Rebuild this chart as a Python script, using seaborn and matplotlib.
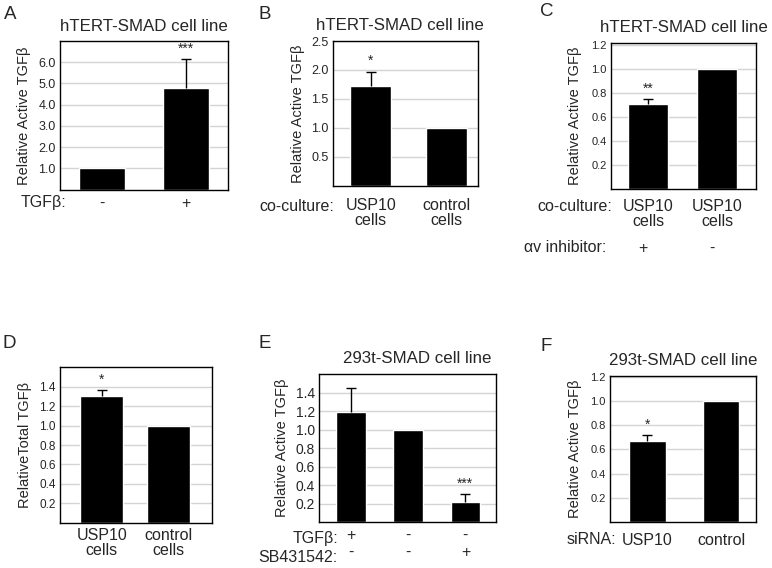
import numpy as np
import pandas as pd
import matplotlib
matplotlib.use("Agg")
import matplotlib.pyplot as plt
import matplotlib.transforms as mtransforms
import seaborn as sns

# --------------------------
# Data
# --------------------------
# A: hTERT-SMAD, TGFb treatment
a_tgfb = ["-", "+"]
a_values = [1.0, 4.78]
a_errors = [0.0, 1.38]

# B: hTERT-SMAD co-culture
b_cells = ["USP10\ncells", "control\ncells"]
b_values = [1.73, 1.0]
b_errors = [0.24, 0.0]

# C: hTERT-SMAD co-culture +/- av inhibitor
c_cells = ["USP10\ncells", "USP10\ncells"]
c_inhibitor = ["+", "-"]
c_values = [0.71, 1.0]
c_errors = [0.04, 0.0]

# D: total TGFb
d_cells = ["USP10\ncells", "control\ncells"]
d_values = [1.30, 1.0]
d_errors = [0.065, 0.0]

# E: 293t-SMAD, TGFb / SB431542
e_tgfb = ["+", "-", "-"]
e_sb = ["-", "-", "+"]
e_values = [1.185, 1.0, 0.22]
e_errors = [0.26, 0.0, 0.086]

# F: 293t-SMAD siRNA
f_sirna = ["USP10", "control"]
f_values = [0.668, 1.0]
f_errors = [0.052, 0.0]

stars = {"A": (1, "***"), "B": (0, "*"), "C": (0, "**"),
         "D": (0, "*"), "E": (2, "***"), "F": (0, "*")}

sns.set_style("white")
plt.rcParams["font.family"] = ["Liberation Sans", "DejaVu Sans"]

W, H = 772, 568
fig = plt.figure(figsize=(W / 100, H / 100), dpi=100)

XFS = 11.5      # x label / row label size
TFS = 12.2      # panel title size


def px_axes(x0, x1, top, bottom):
    return fig.add_axes([x0 / W, 1 - bottom / H, (x1 - x0) / W, (bottom - top) / H])


def px(x, y):
    return x / W, 1 - y / H


def draw_panel(ax, keys, labels, values, errors, star, yticks, ylim, xlim,
               width, tick_size, ylabel, label_x, xpad):
    df = pd.DataFrame({"group": keys, "value": values})
    sns.barplot(data=df, x="group", y="value", order=keys, color="black",
                saturation=1, width=width, errorbar=None, ax=ax)
    pos = np.arange(len(values))
    err = np.array(errors)
    has = err > 0
    eb = ax.errorbar(pos[has], np.array(values)[has],
                     yerr=[np.zeros(has.sum()), err[has]], fmt="none",
                     ecolor="black", elinewidth=1, capsize=3.5, capthick=1)
    eb[1][0].remove()   # drop the cap at the bar top, keep the upper one
    idx, txt = star
    ax.annotate(txt, (idx, values[idx] + errors[idx]), xytext=(0, 7.5),
                textcoords="offset points", ha="center", va="center",
                fontsize=10)
    ax.set_ylim(*ylim)
    ax.set_xlim(*xlim)
    ax.set_yticks(yticks)
    ax.set_yticklabels([f"{t:.1f}" for t in yticks])
    ax.set_xticks(pos)
    ax.set_xticklabels(labels, fontsize=XFS, linespacing=1.0)
    ax.tick_params(axis="y", length=0, pad=3, labelsize=tick_size)
    ax.tick_params(axis="x", length=0, pad=xpad)
    ax.yaxis.grid(True, color="#d4d4d4", linewidth=1)
    ax.set_axisbelow(True)
    ax.set_xlabel("")
    ax.set_ylabel(ylabel, fontsize=10.5)
    ax.yaxis.set_label_coords(label_x, 0.5)
    for s in ax.spines.values():
        s.set_color("black")
        s.set_linewidth(1)


# Panel A
axA = px_axes(60, 228, 41, 189.6)
draw_panel(axA, ["minus", "plus"], a_tgfb, a_values, a_errors, stars["A"],
           [1, 2, 3, 4, 5, 6], (0, 7), (-0.5, 1.5), 0.54, 9,
           "Relative Active TGFβ", -0.174, 4.5)
axA.set_title("hTERT-SMAD cell line", fontsize=TFS, pad=7)
fig.text(*px(21, 203), "TGFβ:", fontsize=XFS, va="center", ha="left")

# Panel B
axB = px_axes(332.7, 477.7, 41, 185.8)
draw_panel(axB, ["USP10", "control"], b_cells, b_values, b_errors, stars["B"],
           [0.5, 1.0, 1.5, 2.0, 2.5], (0, 2.5), (-0.505, 1.418), 0.54, 9,
           "Relative Active TGFβ", -0.191, 9)
axB.set_title("hTERT-SMAD cell line", fontsize=TFS, pad=8, x=0.462)
fig.text(*px(259, 206), "co-culture:", fontsize=XFS, va="center", ha="left")

# Panel C
axC = px_axes(611, 756, 43.3, 189)
draw_panel(axC, ["USP10 inhibitor", "USP10 vehicle"], c_cells, c_values,
           c_errors, stars["C"], [0.2, 0.4, 0.6, 0.8, 1.0, 1.2], (0, 1.214),
           (-0.538, 1.558), 0.58, 8, "Relative Active TGFβ", -0.202, 7)
axC.set_title("hTERT-SMAD cell line", fontsize=TFS, pad=8)
fig.text(*px(537, 206), "co-culture:", fontsize=XFS, va="center", ha="left")
fig.text(*px(524, 248), "αv inhibitor:", fontsize=XFS, va="center", ha="left")
trC = mtransforms.blended_transform_factory(axC.transData, axC.transAxes)
for i, sign in enumerate(c_inhibitor):
    axC.text(i - 0.08, (189 - 248) / (189 - 43.3), sign, transform=trC,
             ha="center", va="center", fontsize=XFS)

# Panel D
axD = px_axes(60, 212.3, 367.3, 522.7)
draw_panel(axD, ["USP10", "control"], d_cells, d_values, d_errors, stars["D"],
           [0.2, 0.4, 0.6, 0.8, 1.0, 1.2, 1.4], (0, 1.6), (-0.625, 1.66),
           0.65, 8.5, "RelativeTotal TGFβ", -0.186, 4)

# Panel E
axE = px_axes(319.3, 495.7, 374, 522.3)
e_labels = [f"{t}\n{s}" for t, s in zip(e_tgfb, e_sb)]
draw_panel(axE, ["tgfb", "none", "sb"], e_labels, e_values, e_errors,
           stars["E"], [0.2, 0.4, 0.6, 0.8, 1.0, 1.2, 1.4], (0, 1.6),
           (-0.554, 2.53), 0.52, 10, "Relative Active TGFβ", -0.17, 4)
for lbl in axE.get_xticklabels():
    lbl.set_linespacing(1.15)
axE.set_title("293t-SMAD cell line", fontsize=TFS, pad=8, x=0.554)
fig.text(*px(338, 538), "TGFβ:", fontsize=XFS, va="center", ha="right")
fig.text(*px(338, 557), "SB431542:", fontsize=XFS, va="center", ha="right")

# Panel F
axF = px_axes(610, 756, 375.7, 522.3)
draw_panel(axF, ["USP10", "control"], f_sirna, f_values, f_errors, stars["F"],
           [0.2, 0.4, 0.6, 0.8, 1.0, 1.2], (0, 1.208), (-0.51, 1.476), 0.49,
           8, "Relative Active TGFβ", -0.194, 7.5)
axF.set_title("293t-SMAD cell line", fontsize=TFS, pad=8)
fig.text(*px(567, 539), "siRNA:", fontsize=XFS, va="center", ha="left")

# Panel letters
for letter, (x, y) in {"A": (4, 6), "B": (258, 6), "C": (540, 3),
                       "D": (2, 335), "E": (259, 335), "F": (541, 338)}.items():
    fig.text(*px(x, y), letter, fontsize=13.5, va="top", ha="left")

fig.savefig("out.png", dpi=100)
